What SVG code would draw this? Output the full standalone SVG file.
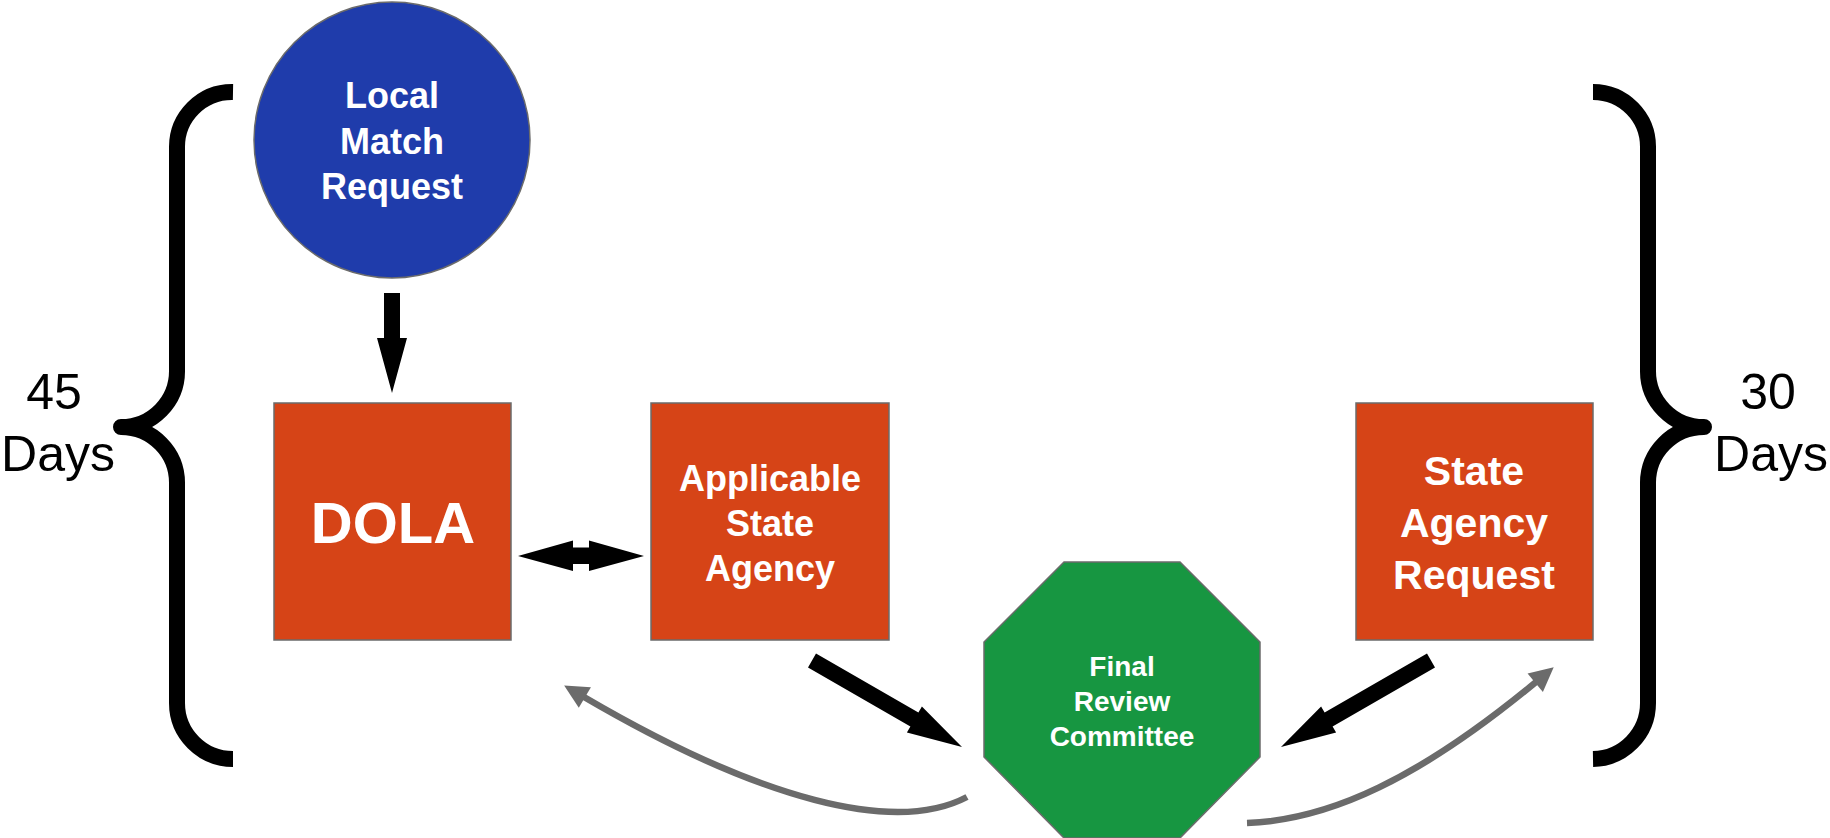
<svg xmlns="http://www.w3.org/2000/svg" width="1830" height="838" viewBox="0 0 1830 838">
<defs>
<style>
.lbl{font-family:"Liberation Sans",Arial,sans-serif;font-weight:bold;fill:#ffffff;text-anchor:middle}
.days{font-family:"Liberation Sans",Arial,sans-serif;fill:#000000;text-anchor:middle;font-size:50px}
.box{fill:#D64417;stroke:#6b6b6b;stroke-width:1.5}
.brace{fill:none;stroke:#000000;stroke-width:16;stroke-linejoin:round;stroke-linecap:butt}
.blk{fill:#000000}
.gray{fill:none;stroke:#6b6b6b;stroke-width:6.5}
</style>
<marker id="gh" markerUnits="userSpaceOnUse" markerWidth="30" markerHeight="30" refX="0" refY="0" orient="auto" overflow="visible">
<path d="M23,0 L-1,-12 L-1,12 Z" fill="#6b6b6b"/>
</marker>
</defs>
<rect width="1830" height="838" fill="#ffffff"/>

<g id="brace-left">
<path class="brace" d="M233,92 A55,55 0 0 0 177,148 L177,370 A56,56 0 0 1 121,427 A56,56 0 0 1 177,484 L177,703 A56,56 0 0 0 233,759"/>
<text class="days" x="54" y="409">45</text>
<text class="days" x="58" y="471">Days</text>
</g>
<g id="brace-right">
<path class="brace" d="M1593,92 A55,55 0 0 1 1648,148 L1648,370 A56,56 0 0 0 1704,427 A56,56 0 0 0 1648,484 L1648,703 A56,56 0 0 1 1593,759"/>
<text class="days" x="1768" y="409">30</text>
<text class="days" x="1771" y="471">Days</text>
</g>

<g id="local-match-request">
<circle cx="392" cy="140" r="138" fill="#1F3CAB" stroke="#6b6b6b" stroke-width="1.5"/>
<text class="lbl" font-size="36" x="392" y="108">Local</text>
<text class="lbl" font-size="36" x="392" y="154">Match</text>
<text class="lbl" font-size="36" x="392" y="199">Request</text>
</g>

<g id="dola">
<rect class="box" x="274" y="403" width="237" height="237"/>
<text class="lbl" font-size="58" x="393" y="543">DOLA</text>
</g>

<g id="applicable-state-agency">
<rect class="box" x="651" y="403" width="238" height="237"/>
<text class="lbl" font-size="36" x="770" y="491">Applicable</text>
<text class="lbl" font-size="36" x="770" y="536">State</text>
<text class="lbl" font-size="36" x="770" y="581">Agency</text>
</g>

<g id="state-agency-request">
<rect class="box" x="1356" y="403" width="237" height="237"/>
<text class="lbl" font-size="41" x="1474" y="485">State</text>
<text class="lbl" font-size="41" x="1474" y="537">Agency</text>
<text class="lbl" font-size="41" x="1474" y="589">Request</text>
</g>

<g id="final-review-committee">
<polygon points="1064,562 1180,562 1260,642 1260,757 1180,838 1064,838 984,757 984,642" fill="#179641" stroke="#6b6b6b" stroke-width="1.5"/>
<text class="lbl" font-size="28" x="1122" y="676">Final</text>
<text class="lbl" font-size="28" x="1122" y="711">Review</text>
<text class="lbl" font-size="28" x="1122" y="746">Committee</text>
</g>

<g id="connectors">
<polygon class="blk" points="384,293 400,293 400,338 407,338 392,393 377,338 384,338"/>
<polygon class="blk" points="518,556 573,540.5 573,547.5 589,547.5 589,540.5 644,556 589,571 589,564 573,564 573,571"/>
<polygon class="blk" points="808,667.4 816,653.6 918.4,712.6 921.9,706.5 962,747 906.9,732.5 910.4,726.4"/>
<polygon class="blk" points="1435,667.4 1427,653.6 1324.6,712.6 1321.1,706.5 1281,747 1336.1,732.5 1332.6,726.4"/>
<path class="gray" d="M967,797 C895,835 760,800 584,697" marker-end="url(#gh)"/>
<path class="gray" d="M1247,823 C1330,820 1420,778 1536,682" marker-end="url(#gh)"/>
</g>
</svg>
